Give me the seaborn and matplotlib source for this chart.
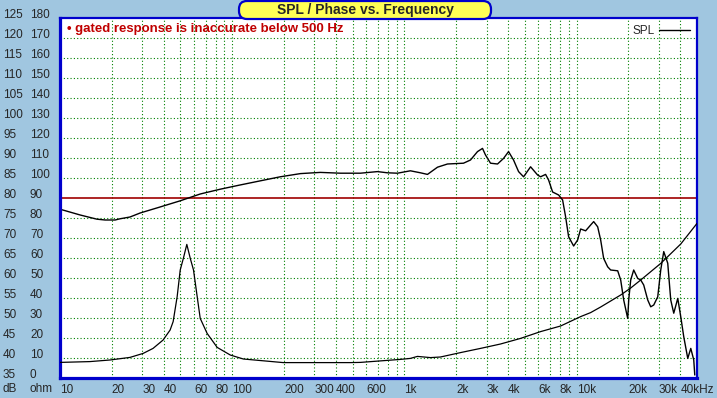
import matplotlib
matplotlib.use('Agg')
import matplotlib.pyplot as plt
import seaborn as sns
from matplotlib.patches import FancyBboxPatch
from matplotlib.transforms import IdentityTransform, blended_transform_factory

# Datos: SPL (dB) e impedancia (ohm) frente a frecuencia (Hz)
spl_freq = [10, 13.1, 16.4, 18.3, 20.9, 22.3, 25.5, 29.2, 38.1, 49.9, 65.2, 85.2, 111, 146,
            190, 249, 325, 425, 555, 697, 796, 911, 1083, 1239, 1361, 1556, 1778, 2203,
            2419, 2657, 2841, 2957, 3162, 3473, 3764, 4024, 4302, 4601, 4919, 5402, 5934,
            6177, 6604, 6874, 7253, 7859, 8291, 8630, 8985, 9607, 10135, 10552, 11279,
            12060, 12558, 13250, 13790, 14354, 15143, 15764, 17318, 18025, 18766, 19796,
            20063, 20606, 21450, 22631, 23559, 24522, 25877, 26931, 28040, 29580, 30790,
            32050, 33810, 35200, 36640, 38660, 40240, 41890, 44190, 46010, 47880, 48530]
spl_db = [77.2, 75.75, 74.7, 74.5, 74.5, 74.8, 75.25, 76.25, 77.75, 79.3, 81, 82.2, 83.25, 84.3,
          85.3, 86.1, 86.4, 86.2, 86.2, 86.6, 86.3, 86.2, 86.8, 86.3, 85.9, 87.7, 88.5, 88.7,
          89.5, 91.6, 92.4, 90.75, 88.7, 88.5, 89.9, 91.6, 89.5, 86.6, 85.3, 87.8, 85.75,
          85.3, 85.9, 84.5, 81.5, 80.75, 79.5, 75.3, 70.3, 68, 69.5, 72.25, 71.8,
          73.25, 74.1, 72.8, 69.5, 64.9, 62.8, 62, 61.8, 59.5, 54.5, 49.9,
          54.5, 59.5, 62, 59.9, 59.5, 58.25, 54.5, 52.8, 53.25, 55.3, 62,
          66.6, 63.7, 54.5, 51.2, 54.9, 50.3, 45.3, 39.9, 42.4, 39.5, 35.75]

imp_freq = [10, 14.9, 19.5, 25.5, 30.4, 34.7, 39.7, 43.6, 45.4, 47.9, 49.9, 52.1, 54.5, 57.0,
            59.6, 62.6, 65.2, 71.5, 81.8, 97.4, 116, 198, 485, 555, 948, 1083, 1190, 1417,
            1619, 2117, 2766, 3615, 4724, 6177, 8072, 10552, 12060, 13790, 15764, 18025,
            20606, 23559, 30790, 40240, 50000]
imp_ohm = [7.8, 8.2, 9, 10.3, 12.3, 14.8, 19, 24, 28.2, 40.7, 54, 60, 66.8, 60,
           54, 40.7, 29.8, 22.3, 15.3, 11.5, 9.5, 7.7, 7.7, 7.8, 9.3, 9.8, 10.8, 10.2,
           10.5, 12.7, 14.8, 17, 19.8, 23.2, 26, 30.7, 32.7, 35.5, 38.5, 41.5,
           45, 49, 57.3, 67, 77.3]

grid_freqs = [f * d for d in (10, 100, 1000) for f in range(2, 11)] + [20000, 30000, 40000]
labeled = {10: '10', 20: '20', 30: '30', 40: '40', 60: '60', 80: '80', 100: '100',
           200: '200', 300: '300', 400: '400', 600: '600', 1000: '1k', 2000: '2k',
           3000: '3k', 4000: '4k', 6000: '6k', 8000: '8k', 10000: '10k', 20000: '20k',
           30000: '30k', 40000: '40kHz'}
db_ticks = list(range(35, 130, 5))
ohm_ticks = list(range(0, 190, 10))

sns.set_style('white')
plt.rcParams['font.family'] = ['Liberation Sans', 'DejaVu Sans']

bg = '#a0c6e0'
blue = '#0000cc'
green = '#008000'

fig = plt.figure(figsize=(7.17, 3.98), dpi=100, facecolor=bg)
ax = fig.add_axes([60 / 717, 20 / 398, 637 / 717, 360 / 398])
ax.set_facecolor('white')
ax.set_xscale('log')
ax.set_xlim(10, 50000)
ax.set_ylim(35, 125)

# rejilla punteada verde
for y in db_ticks[1:-1]:
    if y == 80:
        continue
    ax.axhline(y, color=green, lw=0.8, linestyle=(0, (1, 2)), zorder=1)
for f in grid_freqs:
    ax.axvline(f, color=green, lw=0.8, linestyle=(0, (1, 2)), zorder=1)
ax.axhline(80, color='#a00000', lw=1.2, zorder=1)

sns.lineplot(x=spl_freq, y=spl_db, ax=ax, color='black', linewidth=1.0, label='SPL', zorder=3)

ax2 = ax.twinx()
ax2.set_ylim(0, 180)
sns.lineplot(x=imp_freq, y=imp_ohm, ax=ax2, color='black', linewidth=0.9, zorder=3)
ax2.set_yticks([])
ax2.set_ylabel('')
for s in ax2.spines.values():
    s.set_visible(False)

# ejes
xt = [10] + grid_freqs
ax.set_xticks(xt)
ax.set_xticklabels([labeled.get(f, '') for f in xt], fontsize=8.5)
ax.xaxis.set_minor_locator(matplotlib.ticker.NullLocator())
ax.tick_params(axis='x', length=0, pad=4)
for lbl in ax.get_xticklabels():
    lbl.set_horizontalalignment('left')
ax.set_yticks([])
ax.set_xlabel('')
ax.set_ylabel('')

for side, lw in (('left', 2.3), ('bottom', 2.3), ('top', 1.6), ('right', 1.6)):
    ax.spines[side].set_visible(True)
    ax.spines[side].set_color(blue)
    ax.spines[side].set_linewidth(lw)
    ax.spines[side].set_zorder(5)

trans = blended_transform_factory(ax.transAxes, ax.transData)
for db, ohm in zip(db_ticks, ohm_ticks):
    ax.text(-57 / 637, db + 0.75, str(db), transform=trans, va='center', ha='left', fontsize=8.5)
    ax.text(-30 / 637, db + 0.75, str(ohm), transform=trans, va='center', ha='left', fontsize=8.5)
fig.text(3 / 717, 1 - 389 / 398, 'dB', va='center', ha='left', fontsize=8.5)
fig.text(30 / 717, 1 - 389 / 398, 'ohm', va='center', ha='left', fontsize=8.5)

ax.text(7 / 637, 1 - 11 / 360, '\u2022 gated response is inaccurate below 500 Hz',
        transform=ax.transAxes, va='center', ha='left', fontsize=9.5,
        fontweight='bold', color='#c00000')

ax.legend(loc='upper right', frameon=False, markerfirst=False, handlelength=2.6,
          fontsize=8.5, borderaxespad=0.2, handletextpad=0.4)

# caja del título
box = FancyBboxPatch((239, 398 - 19), 252, 18, boxstyle='round,pad=0,rounding_size=8',
                     facecolor='#ffff55', edgecolor=blue, linewidth=1.6,
                     transform=IdentityTransform(), zorder=10)
fig.add_artist(box)
fig.text(365 / 717, 1 - 10 / 398, 'SPL / Phase vs. Frequency', ha='center', va='center',
         fontsize=10, fontweight='bold', zorder=11)

fig.savefig('out.png', dpi=100, facecolor=bg)
